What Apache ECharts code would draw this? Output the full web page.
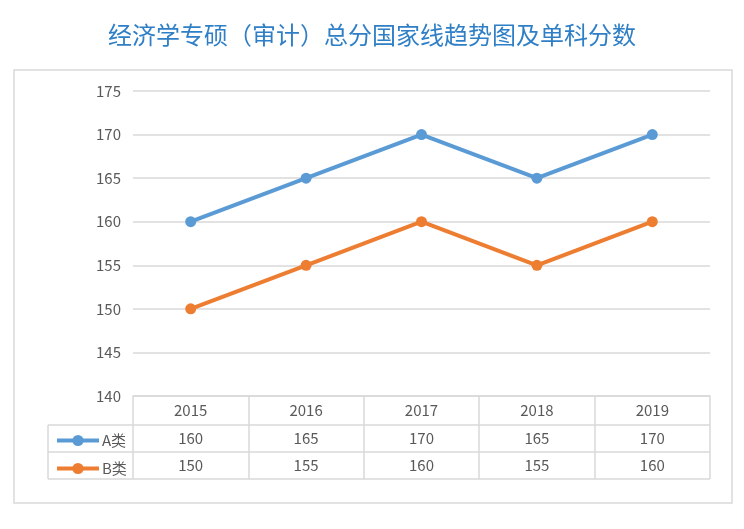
<!DOCTYPE html>
<html>
<head>
<meta charset="utf-8">
<script src="https://cdn.jsdelivr.net/npm/echarts@6/dist/echarts.min.js"></script>
<style>
html,body{margin:0;padding:0;background:#fff;}
#main{width:744px;height:529px;}
</style>
</head>
<body>
<div id="main"></div>
<script>
var titleText = '经济学专硕（审计）总分国家线趋势图及单科分数';
var years = ['2015', '2016', '2017', '2018', '2019'];
var seriesNames = ['A类', 'B类'];
var seriesA = [160, 165, 170, 165, 170];
var seriesB = [150, 155, 160, 155, 160];
var yTicks = [140, 145, 150, 155, 160, 165, 170, 175];

var colors = ['#5b9bd5', '#ed7d31'];
var gridCol = '#d9d9d9';
var txtCol = '#595959';
var font = '"Noto Sans CJK SC", "Noto Sans", sans-serif';

var chart = echarts.init(document.getElementById('main'));
var option = {
  animation: false,
  backgroundColor: '#fff',
  title: {
    text: titleText, left: 'center', top: 18,
    textStyle: { fontFamily: font, fontSize: 24, fontWeight: 'normal', color: '#2f7fc6' }
  },
  legend: {
    orient: 'vertical', left: 50, top: 428, itemGap: 13,
    itemWidth: 42, itemHeight: 14,
    data: seriesNames,
    lineStyle: { width: 4 },
    textStyle: { fontFamily: font, fontSize: 15, color: txtCol, padding: [0, 0, 0, -2] }
  },
  grid: { left: 133, right: 34, top: 91, bottom: 133 },
  xAxis: {
    type: 'category', data: years, boundaryGap: true,
    axisLine: { show: true, lineStyle: { color: gridCol, width: 1.5 } },
    axisTick: { show: true, interval: 0, length: 83, lineStyle: { color: gridCol, width: 1.5 } },
    axisLabel: { margin: 7, fontFamily: font, fontSize: 15, color: txtCol, interval: 0 }
  },
  yAxis: {
    type: 'value', min: yTicks[0], max: yTicks[yTicks.length - 1], interval: 5,
    axisLine: { show: false }, axisTick: { show: false },
    axisLabel: { margin: 12, fontFamily: font, fontSize: 15, color: txtCol },
    splitLine: { lineStyle: { color: gridCol, width: 1.5 } }
  },
  series: [
    { name: seriesNames[0], type: 'line', data: seriesA, symbol: 'circle', symbolSize: 11,
      lineStyle: { width: 4, color: colors[0] }, itemStyle: { color: colors[0] } },
    { name: seriesNames[1], type: 'line', data: seriesB, symbol: 'circle', symbolSize: 11,
      lineStyle: { width: 4, color: colors[1] }, itemStyle: { color: colors[1] } }
  ]
};
chart.setOption(option);

// table built from the axis positions
var g = [];
g.push({ type: 'rect', shape: { x: 14, y: 70, width: 718, height: 433 },
  style: { fill: 'none', stroke: gridCol, lineWidth: 1.5 }, silent: true });
var xL = chart.convertToPixel({ xAxisIndex: 0 }, years[0]);
var xR = chart.convertToPixel({ xAxisIndex: 0 }, years[years.length - 1]);
var half = (xR - xL) / (years.length - 1) / 2;
var right0 = xR + half;
var yTop = chart.convertToPixel({ yAxisIndex: 0 }, yTicks[0]);
var rowH = 27;
var r1 = yTop + 29, r2 = r1 + rowH, r3 = r2 + rowH;
[r1, r2, r3].forEach(function (yy) {
  g.push({ type: 'line', shape: { x1: 48, y1: yy, x2: right0, y2: yy },
    style: { stroke: gridCol, lineWidth: 1.5 }, silent: true });
});
g.push({ type: 'line', shape: { x1: 48, y1: r1, x2: 48, y2: r3 },
  style: { stroke: gridCol, lineWidth: 1.5 }, silent: true });
var rows = [seriesA, seriesB];
rows.forEach(function (vals, ri) {
  var cy = (ri === 0 ? (r1 + r2) / 2 : (r2 + r3) / 2);
  vals.forEach(function (v, i) {
    var cx = chart.convertToPixel({ xAxisIndex: 0 }, years[i]);
    g.push({ type: 'text', x: cx, y: cy, silent: true,
      style: { text: String(v), align: 'center', verticalAlign: 'middle',
        font: '15px ' + font, fill: txtCol } });
  });
});
chart.setOption({ graphic: g });
</script>
</body>
</html>
